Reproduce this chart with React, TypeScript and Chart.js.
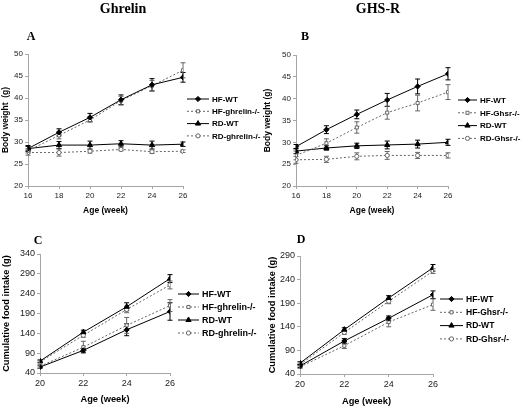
import React, { useEffect, useRef } from 'react';
import { Chart, registerables } from 'chart.js';
import { drawPoint } from 'chart.js/helpers';

Chart.register(...registerables);

// ---------- data ----------
const WEEKS_BW = [16, 18, 20, 22, 24, 26];
const WEEKS_FI = [20, 22, 24, 26];

const LABELS_GHRELIN = ['HF-WT', 'HF-ghrelin-/-', 'RD-WT', 'RD-ghrelin-/-'];
const LABELS_GHSR = ['HF-WT', 'HF-Ghsr-/-', 'RD-WT', 'RD-Ghsr-/-'];

// Panel A: body weight (g), ghrelin
const A_HF_WT = [28.5, 32.2, 35.6, 39.6, 43.0, 44.7];
const A_HF_WT_ERR = [0.7, 0.8, 0.9, 1.1, 1.4, 1.1];
const A_HF_KO = [28.0, 31.5, 35.0, 39.4, 42.8, 46.3];
const A_HF_KO_ERR = [0.5, 0.8, 0.5, 1.0, 1.2, 1.7];
const A_RD_WT = [28.5, 29.3, 29.3, 29.6, 29.3, 29.5];
const A_RD_WT_ERR = [0.5, 0.8, 0.9, 0.7, 0.9, 0.5];
const A_RD_KO = [27.6, 27.6, 27.9, 28.3, 27.8, 27.9];
const A_RD_KO_ERR = [0.6, 0.8, 0.4, 0.3, 0.4, 0.3];

// Panel B: body weight (g), GHS-R
const B_HF_WT = [29.0, 32.9, 36.4, 39.7, 42.8, 45.7];
const B_HF_WT_ERR = [0.5, 0.9, 1.0, 1.5, 1.7, 1.4];
const B_HF_KO = [27.0, 29.8, 33.4, 36.8, 39.0, 41.5];
const B_HF_KO_ERR = [1.0, 1.0, 1.3, 1.5, 1.8, 1.7];
const B_RD_WT = [28.0, 28.7, 29.2, 29.4, 29.6, 30.0];
const B_RD_WT_ERR = [0.6, 0.5, 0.6, 0.9, 0.9, 0.7];
const B_RD_KO = [26.0, 26.1, 26.8, 27.0, 27.0, 27.0];
const B_RD_KO_ERR = [0.8, 0.7, 0.8, 0.9, 0.7, 0.6];

// Panel C: cumulative food intake (g), ghrelin
const C_HF_WT = [55, 97, 149, 195];
const C_HF_WT_ERR = [3, 5, 15, 22];
const C_HF_KO = [57, 105, 160, 210];
const C_HF_KO_ERR = [5, 15, 20, 15];
const C_RD_WT = [70, 143, 207, 278];
const C_RD_WT_ERR = [3, 5, 10, 10];
const C_RD_KO = [68, 135, 200, 262];
const C_RD_KO_ERR = [3, 5, 8, 10];

// Panel D: cumulative food intake (g), GHS-R
const D_HF_WT = [57, 110, 158, 208];
const D_HF_WT_ERR = [3, 5, 5, 8];
const D_HF_KO = [55, 100, 150, 187];
const D_HF_KO_ERR = [3, 6, 10, 12];
const D_RD_WT = [63, 134, 201, 265];
const D_RD_WT_ERR = [3, 4, 5, 7];
const D_RD_KO = [60, 128, 194, 258];
const D_RD_KO_ERR = [3, 4, 5, 5];

// ---------- layout / style ----------
const W = 524;
const H = 409;
const SANS = '"Liberation Sans", Arial, sans-serif';
const SERIF = '"Liberation Serif", "Times New Roman", serif';

const SERIES_STYLES = [
  { pointStyle: 'rectRot', bg: '#000', border: '#000', dash: [] as number[], radius: 2.6 },
  { pointStyle: 'rect', bg: '#fff', border: '#666', dash: [2, 2], radius: 2.2 },
  { pointStyle: 'triangle', bg: '#000', border: '#000', dash: [] as number[], radius: 3 },
  { pointStyle: 'circle', bg: '#fff', border: '#666', dash: [2, 2], radius: 2.1 },
];

type PanelCfg = {
  labels: string[];
  weeks: number[];
  series: number[][];
  errs: number[][];
  xMin: number;
  xMax: number;
  yMin: number;
  yMax: number;
  yStep: number;
  yTitle: string;
  area: { l: number; t: number; r: number; b: number };
  yW: number;
  xH: number;
  tickSize: number;
  titleSize: number;
  legend: { x: number; y0: number; gap: number; len: number; size: number };
};

const PANELS: PanelCfg[] = [
  {
    labels: LABELS_GHRELIN,
    weeks: WEEKS_BW,
    series: [A_HF_WT, A_HF_KO, A_RD_WT, A_RD_KO],
    errs: [A_HF_WT_ERR, A_HF_KO_ERR, A_RD_WT_ERR, A_RD_KO_ERR],
    xMin: 16, xMax: 26, yMin: 20, yMax: 50, yStep: 5,
    yTitle: 'Body weight  (g)',
    area: { l: 28, t: 54, r: 183, b: 186 },
    yW: 28, xH: 30, tickSize: 8, titleSize: 8.5,
    legend: { x: 187, y0: 99, gap: 12.3, len: 22, size: 8 },
  },
  {
    labels: LABELS_GHSR,
    weeks: WEEKS_BW,
    series: [B_HF_WT, B_HF_KO, B_RD_WT, B_RD_KO],
    errs: [B_HF_WT_ERR, B_HF_KO_ERR, B_RD_WT_ERR, B_RD_KO_ERR],
    xMin: 16, xMax: 26, yMin: 20, yMax: 50, yStep: 5,
    yTitle: 'Body weight (g)',
    area: { l: 296, t: 55, r: 448, b: 186 },
    yW: 34, xH: 30, tickSize: 8, titleSize: 8.5,
    legend: { x: 458, y0: 100, gap: 12.8, len: 19, size: 8 },
  },
  {
    labels: LABELS_GHRELIN,
    weeks: WEEKS_FI,
    series: [C_HF_WT, C_HF_KO, C_RD_WT, C_RD_KO],
    errs: [C_HF_WT_ERR, C_HF_KO_ERR, C_RD_WT_ERR, C_RD_KO_ERR],
    xMin: 20, xMax: 26, yMin: 40, yMax: 340, yStep: 50,
    yTitle: 'Cumulative food intake (g)',
    area: { l: 40, t: 254, r: 170, b: 373 },
    yW: 40, xH: 32, tickSize: 9, titleSize: 9.3,
    legend: { x: 178, y0: 294, gap: 13, len: 21, size: 9 },
  },
  {
    labels: LABELS_GHSR,
    weeks: WEEKS_FI,
    series: [D_HF_WT, D_HF_KO, D_RD_WT, D_RD_KO],
    errs: [D_HF_WT_ERR, D_HF_KO_ERR, D_RD_WT_ERR, D_RD_KO_ERR],
    xMin: 20, xMax: 26, yMin: 40, yMax: 290, yStep: 50,
    yTitle: 'Cumulative food intake (g)',
    area: { l: 300, t: 256, r: 433, b: 374 },
    yW: 34, xH: 33, tickSize: 9, titleSize: 9.3,
    legend: { x: 440, y0: 299, gap: 13.3, len: 23, size: 8.5 },
  },
];

// ---------- plugins ----------
const errorBarPlugin = {
  id: 'errorBars',
  beforeDatasetsDraw(chart: any) {
    const { ctx } = chart;
    const yScale = chart.scales.y;
    chart.data.datasets.forEach((ds: any, i: number) => {
      const meta = chart.getDatasetMeta(i);
      const errs: number[] = ds.errors || [];
      ctx.save();
      ctx.strokeStyle = ds.borderColor;
      ctx.lineWidth = 1;
      ctx.setLineDash([]);
      meta.data.forEach((pt: any, j: number) => {
        const v = ds.data[j].y;
        const e = errs[j] || 0;
        const x = pt.x;
        const y1 = yScale.getPixelForValue(v + e);
        const y2 = yScale.getPixelForValue(v - e);
        ctx.beginPath();
        ctx.moveTo(x, y1);
        ctx.lineTo(x, y2);
        ctx.moveTo(x - 2.5, y1);
        ctx.lineTo(x + 2.5, y1);
        ctx.moveTo(x - 2.5, y2);
        ctx.lineTo(x + 2.5, y2);
        ctx.stroke();
      });
      ctx.restore();
    });
  },
};

const lineLegendPlugin = {
  id: 'lineLegend',
  afterDraw(chart: any, _args: any, opts: any) {
    const { ctx } = chart;
    chart.data.datasets.forEach((ds: any, i: number) => {
      const y = opts.y0 + i * opts.gap;
      const x1 = opts.x;
      const x2 = opts.x + opts.len;
      ctx.save();
      ctx.strokeStyle = ds.borderColor;
      ctx.lineWidth = 1;
      ctx.setLineDash(ds.borderDash || []);
      ctx.beginPath();
      ctx.moveTo(x1, y);
      ctx.lineTo(x2, y);
      ctx.stroke();
      ctx.setLineDash([]);
      ctx.fillStyle = ds.pointBackgroundColor;
      ctx.strokeStyle = ds.pointBorderColor;
      drawPoint(ctx, { pointStyle: ds.pointStyle, rotation: 0, radius: ds.pointRadius, borderWidth: 1 } as any, (x1 + x2) / 2, y);
      ctx.fillStyle = '#000';
      ctx.font = `bold ${opts.size}px ${SANS}`;
      ctx.textBaseline = 'middle';
      ctx.textAlign = 'left';
      ctx.fillText(ds.label, x2 + 3, y + 0.5);
      ctx.restore();
    });
  },
};

// ---------- components ----------
function Panel({ cfg }: { cfg: PanelCfg }) {
  const ref = useRef<HTMLCanvasElement>(null);
  useEffect(() => {
    if (!ref.current) return;
    const axisColor = '#a6a6a6';
    const chart = new Chart(ref.current, {
      type: 'line',
      data: {
        datasets: cfg.series.map((s, i) => {
          const st = SERIES_STYLES[i];
          return {
            label: cfg.labels[i],
            data: cfg.weeks.map((w, j) => ({ x: w, y: s[j] })),
            errors: cfg.errs[i],
            borderColor: st.border,
            borderWidth: 1,
            borderDash: st.dash,
            pointStyle: st.pointStyle,
            pointRadius: st.radius,
            pointBackgroundColor: st.bg,
            pointBorderColor: st.border,
            pointBorderWidth: 1,
            fill: false,
            tension: 0,
          } as any;
        }),
      },
      options: {
        responsive: false,
        maintainAspectRatio: false,
        animation: false,
        layout: {
          padding: {
            left: cfg.area.l - cfg.yW,
            top: cfg.area.t,
            right: W - cfg.area.r,
            bottom: H - cfg.area.b - cfg.xH,
          },
        },
        scales: {
          x: {
            type: 'linear',
            min: cfg.xMin,
            max: cfg.xMax,
            afterFit: (s: any) => { s.height = cfg.xH; },
            ticks: { stepSize: 2, color: '#222', padding: 2, font: { family: SANS, size: cfg.tickSize } },
            grid: { drawOnChartArea: false, drawTicks: true, tickLength: 3, color: axisColor },
            border: { display: true, color: axisColor },
            title: { display: true, text: 'Age (week)', color: '#000', padding: { top: 0, bottom: 0 }, font: { family: SANS, size: cfg.titleSize, weight: 'bold' } },
          },
          y: {
            type: 'linear',
            min: cfg.yMin,
            max: cfg.yMax,
            afterFit: (s: any) => { s.width = cfg.yW; },
            ticks: { stepSize: cfg.yStep, color: '#222', padding: 2, font: { family: SANS, size: cfg.tickSize } },
            grid: { drawOnChartArea: false, drawTicks: true, tickLength: 3, color: axisColor },
            border: { display: true, color: axisColor },
            title: { display: true, text: cfg.yTitle, color: '#000', padding: { top: 1, bottom: 0 }, font: { family: SANS, size: cfg.titleSize, weight: 'bold' } },
          },
        },
        plugins: {
          legend: { display: false },
          tooltip: { enabled: false },
          lineLegend: cfg.legend,
        } as any,
      },
      plugins: [errorBarPlugin, lineLegendPlugin],
    } as any);
    return () => chart.destroy();
  }, [cfg]);
  return (
    <canvas
      ref={ref}
      width={W}
      height={H}
      style={{ position: 'absolute', left: 0, top: 0, width: W, height: H }}
    />
  );
}

function Label({ text, x, y, size }: { text: string; x: number; y: number; size: number }) {
  return (
    <div
      style={{
        position: 'absolute',
        left: x,
        top: y,
        transform: 'translate(-50%, -50%)',
        fontFamily: SERIF,
        fontWeight: 'bold',
        fontSize: size,
        lineHeight: 1,
        whiteSpace: 'nowrap',
        color: '#000',
      }}
    >
      {text}
    </div>
  );
}

export default function App() {
  return (
    <div style={{ position: 'fixed', left: 0, top: 0, width: W, height: H, background: '#fff', overflow: 'hidden' }}>
      {PANELS.map((p, i) => (
        <Panel key={i} cfg={p} />
      ))}
      <Label text="Ghrelin" x={123} y={9} size={14} />
      <Label text="GHS-R" x={378} y={9} size={14} />
      <Label text="A" x={31} y={36} size={12} />
      <Label text="B" x={305} y={36} size={12} />
      <Label text="C" x={38} y={240} size={12} />
      <Label text="D" x={301} y={239} size={12} />
    </div>
  );
}
